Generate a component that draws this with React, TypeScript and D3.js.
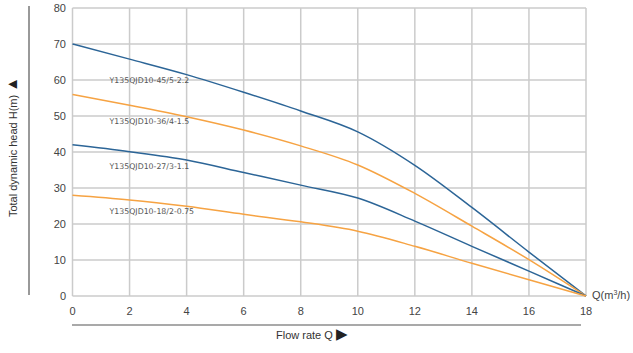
import React, { useEffect, useRef } from "react";
import * as d3 from "d3";

// flow rate Q (m3/h) sampled at every 2
const flowQ = [0, 2, 4, 6, 8, 10, 12, 14, 16, 18];

const head45 = [70, 65.8, 61.5, 56.6, 51.4, 45.6, 36.3, 24.6, 12.2, 0];
const head36 = [56, 53, 49.8, 46.1, 41.7, 36.4, 28.5, 19.4, 10.1, 0];
const head27 = [42, 40.1, 37.8, 34.3, 30.8, 27.2, 20.8, 13.8, 6.9, 0];
const head18 = [28, 26.7, 24.9, 22.7, 20.6, 18, 13.8, 9.1, 4.5, 0];

const seriesNames = [
  "Y135QJD10-45/5-2.2",
  "Y135QJD10-36/4-1.5",
  "Y135QJD10-27/3-1.1",
  "Y135QJD10-18/2-0.75",
];
const labelHeads = [60, 48.4, 36, 23.5];

const xTicks = [0, 2, 4, 6, 8, 10, 12, 14, 16, 18];
const yTicks = [0, 10, 20, 30, 40, 50, 60, 70, 80];

const BLUE = "#2c6597";
const ORANGE = "#f6a343";

const App = () => {
  const svgRef = useRef<SVGSVGElement>(null);

  useEffect(() => {
    const svg = d3.select(svgRef.current);
    svg.selectAll("*").remove();

    const x = d3.scaleLinear().domain([0, 18]).range([72.5, 586]);
    const y = d3.scaleLinear().domain([0, 80]).range([296, 8]);
    const font = "'Liberation Sans', Arial, sans-serif";

    // grid
    const grid = svg.append("g").attr("stroke", "#cbcbcb").attr("stroke-width", 1.5);
    grid
      .selectAll(".vx")
      .data(xTicks)
      .join("line")
      .attr("x1", (d) => x(d))
      .attr("x2", (d) => x(d))
      .attr("y1", y(80))
      .attr("y2", y(0));
    grid
      .selectAll(".hy")
      .data(yTicks)
      .join("line")
      .attr("x1", x(0))
      .attr("x2", x(18))
      .attr("y1", (d) => y(d))
      .attr("y2", (d) => y(d));

    // tick labels
    svg
      .append("g")
      .selectAll("text")
      .data(yTicks)
      .join("text")
      .attr("x", 66)
      .attr("y", (d) => y(d))
      .attr("dy", "0.35em")
      .attr("text-anchor", "end")
      .attr("font-family", font)
      .attr("font-size", 11)
      .attr("fill", "#444")
      .text((d) => d);
    svg
      .append("g")
      .selectAll("text")
      .data(xTicks)
      .join("text")
      .attr("x", (d) => x(d))
      .attr("y", 311)
      .attr("dy", "0.35em")
      .attr("text-anchor", "middle")
      .attr("font-family", font)
      .attr("font-size", 11)
      .attr("fill", "#444")
      .text((d) => d);

    // curves
    const heads = [head45, head36, head27, head18];
    const colors = [BLUE, ORANGE, BLUE, ORANGE];
    const line = d3
      .line<number>()
      .x((_, i) => x(flowQ[i]))
      .y((d) => y(d))
      .curve(d3.curveMonotoneX);
    heads.forEach((h, i) => {
      svg
        .append("path")
        .attr("d", line(h))
        .attr("fill", "none")
        .attr("stroke", colors[i])
        .attr("stroke-width", 1.5);
      svg
        .append("text")
        .attr("x", x(1.3))
        .attr("y", y(labelHeads[i]))
        .attr("dy", "0.35em")
        .attr("font-family", "'DejaVu Sans', sans-serif")
        .attr("font-size", 7.8)
        .attr("fill", "#555")
        .text(seriesNames[i]);
    });

    // decorative axis bars
    svg
      .append("line")
      .attr("x1", 29)
      .attr("x2", 29)
      .attr("y1", 6)
      .attr("y2", 295)
      .attr("stroke", "#555")
      .attr("stroke-width", 1.2);
    svg
      .append("line")
      .attr("x1", 72)
      .attr("x2", 581)
      .attr("y1", 325)
      .attr("y2", 325)
      .attr("stroke", "#555")
      .attr("stroke-width", 1.2);

    // axis titles
    const yt = svg
      .append("text")
      .attr("transform", "translate(17,147) rotate(-90)")
      .attr("text-anchor", "middle")
      .attr("font-family", font)
      .attr("font-size", 11)
      .attr("fill", "#333");
    yt.append("tspan").text("Total dynamic head H(m) ");
    yt.append("tspan").attr("font-size", 15).attr("fill", "#222").text("\u25B2");

    const xt = svg
      .append("text")
      .attr("x", 276)
      .attr("y", 339)
      .attr("font-family", font)
      .attr("font-size", 11)
      .attr("fill", "#333");
    xt.append("tspan").text("Flow rate Q ");
    xt.append("tspan").attr("font-size", 15).attr("fill", "#222").text("\u25B6");

    const q = svg
      .append("text")
      .attr("x", 592)
      .attr("y", 299)
      .attr("font-family", font)
      .attr("font-size", 11)
      .attr("fill", "#444");
    q.append("tspan").text("Q(m");
    q.append("tspan").attr("font-size", 7).attr("dy", -4).text("3");
    q.append("tspan").attr("dy", 4).text("/h)");
  }, []);

  return (
    <div style={{ position: "absolute", left: 0, top: 0 }}>
      <svg ref={svgRef} width={633} height={353} style={{ display: "block", background: "#fff" }} />
    </div>
  );
};

export default App;
